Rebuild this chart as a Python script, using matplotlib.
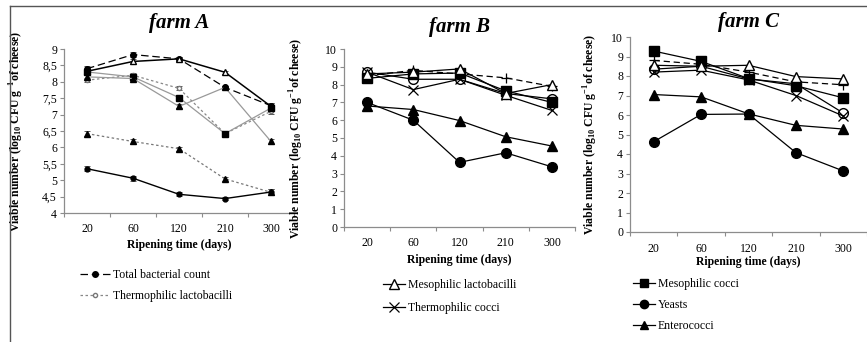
import matplotlib
matplotlib.use("Agg")
import matplotlib.pyplot as plt
from matplotlib.lines import Line2D
from matplotlib.ticker import FuncFormatter, FixedLocator, NullFormatter

plt.rcParams['font.family'] = ['Liberation Serif', 'DejaVu Serif']
plt.rcParams['mathtext.fontset'] = 'custom'
plt.rcParams['mathtext.rm'] = 'Liberation Serif'
plt.rcParams['mathtext.bf'] = 'Liberation Serif:bold'

days = ["20", "60", "120", "210", "300"]

# farm A
a_tbc = [8.40, 8.83, 8.70, 7.83, 7.27]
a_mes_lacto = [8.32, 8.62, 8.70, 8.29, 7.25]
a_thermo_lacto = [8.05, 8.20, 7.80, 6.42, 7.10]
a_mes_cocci = [8.30, 8.15, 7.52, 6.42, 7.20]
a_thermo_cocci = [8.15, 8.10, 7.25, 7.83, 6.18]
a_entero = [6.42, 6.18, 5.96, 5.04, 4.63]
a_yeasts = [5.35, 5.06, 4.57, 4.44, 4.64]
a_err = [0.07, 0.08, 0.06, 0.05, 0.09]

# farm B
b_tbc = [8.50, 8.80, 8.60, 8.38, 7.90]
b_mes_lacto = [8.60, 8.70, 8.88, 7.50, 8.00]
b_thermo_lacto = [8.70, 8.30, 8.30, 7.50, 7.20]
b_mes_cocci = [8.35, 8.60, 8.65, 7.65, 7.00]
b_thermo_cocci = [8.70, 7.72, 8.30, 7.40, 6.55]
b_yeasts = [7.00, 6.00, 3.63, 4.17, 3.38]
b_entero = [6.80, 6.60, 5.98, 5.07, 4.55]

# farm C
c_tbc = [8.80, 8.60, 8.20, 7.70, 7.55]
c_mes_lacto = [8.55, 8.50, 8.55, 7.97, 7.85]
c_thermo_lacto = [8.35, 8.50, 7.85, 7.60, 6.10]
c_mes_cocci = [9.28, 8.75, 7.87, 7.50, 6.88]
c_thermo_cocci = [8.20, 8.30, 7.80, 7.00, 5.95]
c_yeasts = [4.63, 6.03, 6.05, 4.07, 3.13]
c_entero = [7.05, 6.93, 6.06, 5.47, 5.28]

W, H = 867, 342
fig = plt.figure(figsize=(W / 100, H / 100), dpi=100)


def box(x0, x1, y_top, y_bot):
    return [x0 / W, 1 - y_bot / H, (x1 - x0) / W, (y_bot - y_top) / H]


ylab = r"Viable number (log$_{\mathbf{10}}$ CFU g$^{\mathbf{-1}}$of cheese)"
x = list(range(len(days)))


def style_axis(ax, ylim, yticks, fmt):
    ax.set_xlim(-0.5, len(days) - 0.5)
    ax.set_ylim(*ylim)
    for s in ["top", "right"]:
        ax.spines[s].set_visible(False)
    for s in ["left", "bottom"]:
        ax.spines[s].set_color("#8c8c8c")
        ax.spines[s].set_linewidth(0.9)
    ax.xaxis.set_major_locator(FixedLocator([i - 0.5 for i in range(len(days) + 1)]))
    ax.xaxis.set_major_formatter(NullFormatter())
    ax.xaxis.set_minor_locator(FixedLocator(x))
    ax.set_xticklabels(days, minor=True)
    ax.tick_params(axis="x", which="major", length=3, color="#8c8c8c", width=0.8)
    ax.tick_params(axis="x", which="minor", length=0, labelsize=8.5, pad=7)
    ax.set_yticks(yticks)
    ax.yaxis.set_major_formatter(FuncFormatter(fmt))
    ax.tick_params(axis="y", length=3, color="#8c8c8c", width=0.8, labelsize=8.5, pad=2)
    ax.set_ylabel(ylab, fontsize=8.5, fontweight="bold")
    ax.set_xlabel("Ripening time (days)", fontsize=8.5, fontweight="bold", labelpad=3)


# ---- farm A ----
axA = fig.add_axes(box(64, 294, 49, 213))
style_axis(axA, (4, 9), [4 + 0.5 * i for i in range(11)],
           lambda v, p: ("%g" % v).replace(".", ","))
eb = dict(capsize=2, elinewidth=0.7, capthick=0.7, ecolor="#555555")
axA.errorbar(x, a_tbc, yerr=a_err, color="black", ls=(0, (6, 3)), lw=0.9,
             marker="o", ms=4, mfc="black", **eb)
axA.errorbar(x, a_mes_lacto, yerr=a_err, color="black", ls="-", lw=1.1,
             marker="^", ms=4, mfc="white", mec="black", **eb)
axA.errorbar(x, a_thermo_lacto, yerr=a_err, color="#888888", ls=(0, (2, 2)), lw=0.9,
             marker="o", ms=3, mfc="white", mec="#777777", **eb)
axA.errorbar(x, a_mes_cocci, yerr=a_err, color="#999999", ls="-", lw=0.9,
             marker="s", ms=4, mfc="black", mec="black", **eb)
axA.errorbar(x, a_thermo_cocci, yerr=a_err, color="#999999", ls="-", lw=0.9,
             marker="^", ms=4, mfc="black", mec="black", **eb)
axA.errorbar(x, a_entero, yerr=a_err, color="#777777", ls=(0, (2, 2)), lw=0.9,
             marker="^", ms=4, mfc="black", mec="black", **eb)
axA.errorbar(x, a_yeasts, yerr=a_err, color="black", ls="-", lw=1.0,
             marker="o", ms=3.5, mfc="black", **eb)
axA.yaxis.set_label_coords(-0.165, 0.5)
axA.set_title("farm A", fontsize=15, fontweight="bold", style="italic", pad=15)
axA.legend([Line2D([], [], color="black", ls=(0, (6, 3)), lw=0.9, marker="o", ms=4),
            Line2D([], [], color="#888888", ls=(0, (2, 2)), lw=0.9, marker="o", ms=3,
                   mfc="white", mec="#777777")],
           ["Total bacterial count", "Thermophilic lactobacilli"],
           loc="upper left", bbox_to_anchor=(80 / W, 1 - 269 / H), bbox_transform=fig.transFigure,
           frameon=False, fontsize=8.5, handlelength=2.5, handletextpad=0.3, labelspacing=0.75,
           borderaxespad=0, borderpad=0)

# ---- farm B and C ----
def draw_bc(ax, tbc, ml, tl, mc, tc, ye, en):
    kw = dict(color="black", lw=0.9, ms=7)
    ax.plot(x, ye, marker="o", mfc="black", **kw)
    ax.plot(x, en, marker="^", mfc="black", **kw)
    ax.plot(x, tl, marker="o", mfc="white", mec="black", **kw)
    ax.plot(x, tc, marker="x", mew=0.9, **kw)
    ax.plot(x, mc, marker="s", mfc="black", **kw)
    ax.plot(x, tbc, marker="+", mew=0.9, ls=(0, (5, 3)), **kw)
    ax.plot(x, ml, marker="^", mfc="white", mec="black", **kw)


axB = fig.add_axes(box(344, 575, 49, 227))
style_axis(axB, (0, 10), range(11), lambda v, p: "%d" % v)
draw_bc(axB, b_tbc, b_mes_lacto, b_thermo_lacto, b_mes_cocci, b_thermo_cocci, b_yeasts, b_entero)
axB.yaxis.set_label_coords(-0.165, 0.5)
axB.set_title("farm B", fontsize=15, fontweight="bold", style="italic", pad=12)
axB.xaxis.labelpad = 4
axB.legend([Line2D([], [], color="black", lw=0.9, marker="^", ms=6.5, mfc="white"),
            Line2D([], [], color="black", lw=0.9, marker="x", ms=6.5, mew=0.9)],
           ["Mesophilic lactobacilli", "Thermophilic cocci"],
           loc="upper left", bbox_to_anchor=(383 / W, 1 - 279 / H), bbox_transform=fig.transFigure,
           frameon=False, fontsize=8.5, handlelength=1.9, handletextpad=0.2, labelspacing=0.95,
           borderaxespad=0, borderpad=0, numpoints=1)

axC = fig.add_axes(box(630, 867, 37, 232))
style_axis(axC, (0, 10), range(11), lambda v, p: "%d" % v)
draw_bc(axC, c_tbc, c_mes_lacto, c_thermo_lacto, c_mes_cocci, c_thermo_cocci, c_yeasts, c_entero)
axC.yaxis.set_label_coords(-0.125, 0.5)
axC.set_title("farm C", fontsize=15, fontweight="bold", style="italic", pad=7)
axC.tick_params(axis="x", which="minor", pad=8)
axC.xaxis.labelpad = 1
axC.legend([Line2D([], [], color="black", lw=0.9, marker="s", ms=6),
            Line2D([], [], color="black", lw=0.9, marker="o", ms=6),
            Line2D([], [], color="black", lw=0.9, marker="^", ms=6)],
           ["Mesophilic cocci", "Yeasts", "Enterococci"],
           loc="upper left", bbox_to_anchor=(633 / W, 1 - 278 / H), bbox_transform=fig.transFigure,
           frameon=False, fontsize=8.5, handlelength=1.9, handletextpad=0.2, labelspacing=0.75,
           borderaxespad=0, borderpad=0, numpoints=1)

# outer frame (top and left)
fig.add_artist(Line2D([10 / W, 1], [1 - 6 / H, 1 - 6 / H], color="#555555", lw=1.0))
fig.add_artist(Line2D([10 / W, 10 / W], [0, 1 - 6 / H], color="#555555", lw=1.0))

fig.savefig("out.png", dpi=100)
